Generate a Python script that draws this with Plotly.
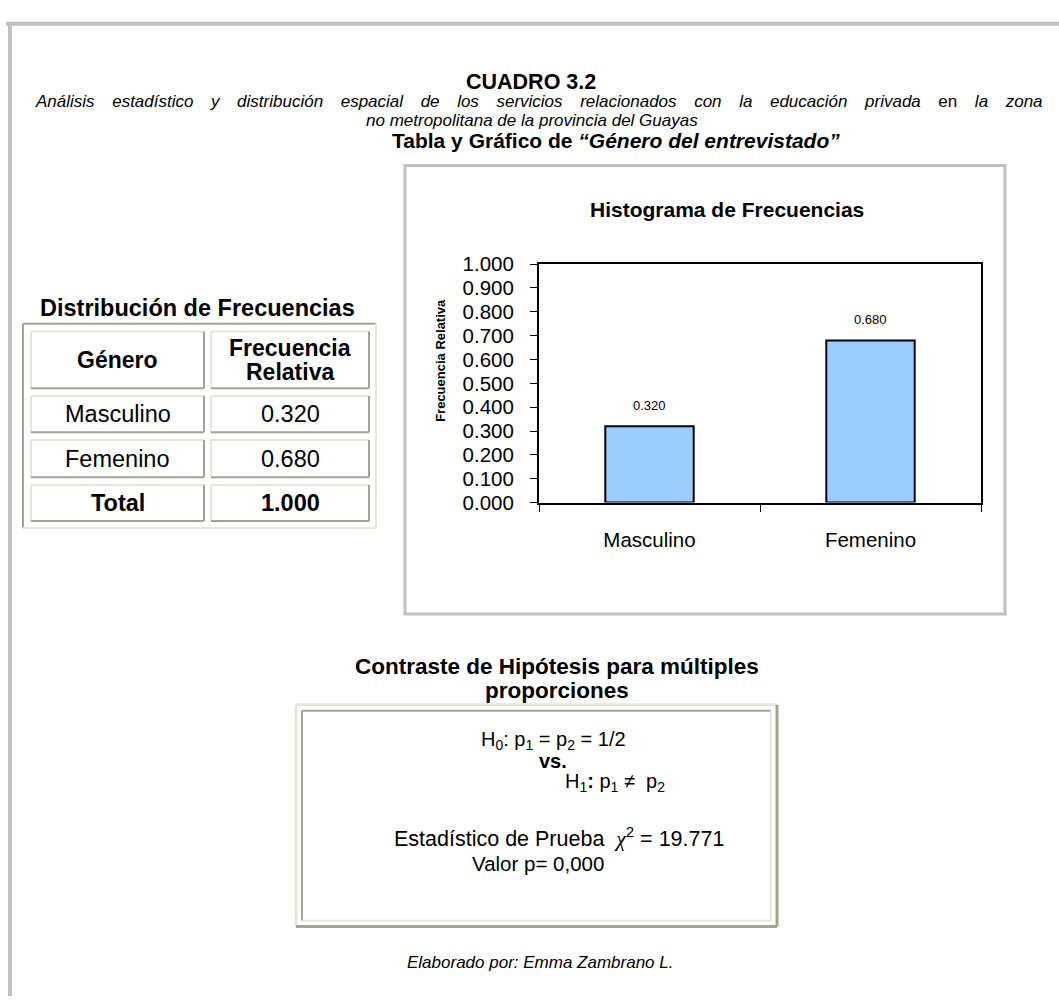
import plotly.graph_objects as go

W, H = 1059, 1007

# ---- data ----
generos = ["Masculino", "Femenino"]
frecuencias = [0.320, 0.680]
y_ticks = [0.0, 0.1, 0.2, 0.3, 0.4, 0.5, 0.6, 0.7, 0.8, 0.9, 1.0]
chi2 = 19.771
valor_p = "0,000"

FONT = "Liberation Sans, Arial, sans-serif"

def px(x):
    return x / W

def py(y):
    return 1 - y / H

fig = go.Figure()

fig.add_trace(go.Bar(
    x=generos, y=frecuencias, width=0.4,
    marker=dict(color="#99ccff", line=dict(color="black", width=2)),
    hoverinfo="skip", showlegend=False,
))

# plot area in pixels
PX0, PX1, PY0, PY1 = 539, 981, 258, 502

fig.update_layout(
    width=W, height=H, margin=dict(l=0, r=0, t=0, b=0),
    paper_bgcolor="white", plot_bgcolor="white",
    font=dict(family=FONT, color="black"),
    xaxis=dict(domain=[px(PX0), px(PX1)], showline=True, linecolor="black", linewidth=2,
               mirror=True, ticks="outside", tickson="boundaries", ticklen=7, tickcolor="black",
               tickwidth=1, tickfont=dict(size=20.5, family=FONT), ticklabelstandoff=18,
               showgrid=False, zeroline=False, fixedrange=True),
    yaxis=dict(domain=[py(PY1), py(PY0)], range=[0, 1.0], tickvals=y_ticks,
               ticktext=[f"{v:.3f}" for v in y_ticks], showline=True, linecolor="black",
               linewidth=2, mirror=True, ticks="outside", ticklen=7, tickcolor="black",
               tickwidth=1, tickfont=dict(size=20.5, family=FONT), ticklabelstandoff=12,
               showgrid=False, zeroline=False, fixedrange=True),
)

shapes = []
annots = []

def line(x0, y0, x1, y1, color, width):
    shapes.append(dict(type="line", xref="paper", yref="paper", x0=px(x0), y0=py(y0),
                       x1=px(x1), y1=py(y1), line=dict(color=color, width=width)))

def rect(x0, y0, x1, y1, color, width, fill=None):
    d = dict(type="rect", xref="paper", yref="paper", x0=px(x0), y0=py(y0),
             x1=px(x1), y1=py(y1), line=dict(color=color, width=width))
    if fill:
        d["fillcolor"] = fill
    shapes.append(d)

def text(x, y, s, size, bold=False, italic=False, xanchor="center", angle=0):
    if bold:
        s = f"<b>{s}</b>"
    if italic:
        s = f"<i>{s}</i>"
    annots.append(dict(xref="paper", yref="paper", x=px(x), y=py(y), text=s,
                       showarrow=False, xanchor=xanchor, yanchor="middle", textangle=angle,
                       font=dict(size=size, family=FONT, color="black")))

def bevel(x0, y0, x1, y1, tl, br, w):
    line(x0, y0, x1, y0, tl, w)
    line(x0, y0, x0, y1, tl, w)
    line(x0, y1, x1, y1, br, w)
    line(x1, y0, x1, y1, br, w)

# outer page frame
line(6, 12, 1059, 12, "#c0c0c0", 4)
line(10, 12, 10, 1007, "#c0c0c0", 4)

# titles
text(531, 72, "CUADRO 3.2", 21.5, bold=True)
sub_words = ["Análisis", "estadístico", "y", "distribución", "espacial", "de", "los", "servicios",
             "relacionados", "con", "la", "educación", "privada", "en", "la", "zona"]
gap = " " + "&nbsp;" * 2 + "\u2009"
sub1 = gap.join(w if w == "en" and i == 13 else f"<i>{w}</i>" for i, w in enumerate(sub_words))
text(539, 92, sub1, 17)
text(532, 111, "no metropolitana de la provincia del Guayas", 17, italic=True)
text(616, 132, "<b>Tabla y Gráfico de <i>“Género del entrevistado”</i></b>", 21)

# chart box
rect(405, 157, 1005, 616, "#c0c0c0", 3)
text(727, 202, "Histograma de Frecuencias", 21, bold=True)
text(441, 357, "Frecuencia Relativa", 13, bold=True, angle=-90)

# data labels above bars
for g, f in zip(generos, frecuencias):
    annots.append(dict(xref="x", yref="y", x=g, y=f, text=f"{f:.3f}", showarrow=False,
                       yshift=21, yanchor="middle",
                       font=dict(size=13, family=FONT, color="black")))

# frequency table
text(197, 303, "Distribución de Frecuencias", 23.5, bold=True)
DARK, LIGHT = "#a5a494", "#e8e6d6"
bevel(23, 319, 376, 528, DARK, LIGHT, 2)
cols = [(31, 204), (211, 369)]
rows = [(327, 385), (393, 430), (438, 476), (484, 521)]
for (y0, y1) in rows:
    for (x0, x1) in cols:
        bevel(x0, y0, x1, y1, LIGHT, DARK, 2)

c0 = (cols[0][0] + cols[0][1]) / 2
c1 = (cols[1][0] + cols[1][1]) / 2
text(c0, (rows[0][0] + rows[0][1]) / 2, "Género", 23, bold=True)
text(c1, 344, "Frecuencia", 23, bold=True)
text(c1, 368, "Relativa", 23, bold=True)
for i, (g, f) in enumerate(zip(generos, frecuencias)):
    y0, y1 = rows[i + 1]
    text(c0, (y0 + y1) / 2, g, 23.5)
    text(c1, (y0 + y1) / 2, f"{f:.3f}", 23.5)
y0, y1 = rows[3]
text(c0, (y0 + y1) / 2, "Total", 23.5, bold=True)
text(c1, (y0 + y1) / 2, f"{sum(frecuencias):.3f}", 23.5, bold=True)

# hypothesis test
text(557, 670, "Contraste de Hipótesis para múltiples", 22.5, bold=True)
text(557, 694, "proporciones", 22.5, bold=True)
bevel(296, 709, 777, 936, LIGHT, DARK, 3)
bevel(302, 715, 771, 930, DARK, LIGHT, 2)
text(554, 746, "H<sub>0</sub>: p<sub>1</sub> = p<sub>2</sub> = 1/2", 20)
text(553, 767, "vs.", 20, bold=True)
text(615, 788, "H<sub>1</sub><b>:</b> p<sub>1</sub> ≠  p<sub>2</sub>", 20)
text(559, 844, "Estadístico de Prueba  <span style=\"font-family:Liberation Serif\"><i>χ</i></span><sup>2</sup> = "
     + f"{chi2:.3f}", 21.5)
text(538, 871, f"Valor p= {valor_p}", 20.5)

text(540, 973, "Elaborado por: Emma Zambrano L.", 17, italic=True)

fig.update_layout(shapes=shapes, annotations=annots)
fig.write_html("out.html", config={"displayModeBar": False},
               post_script="document.body.style.margin='0';")
